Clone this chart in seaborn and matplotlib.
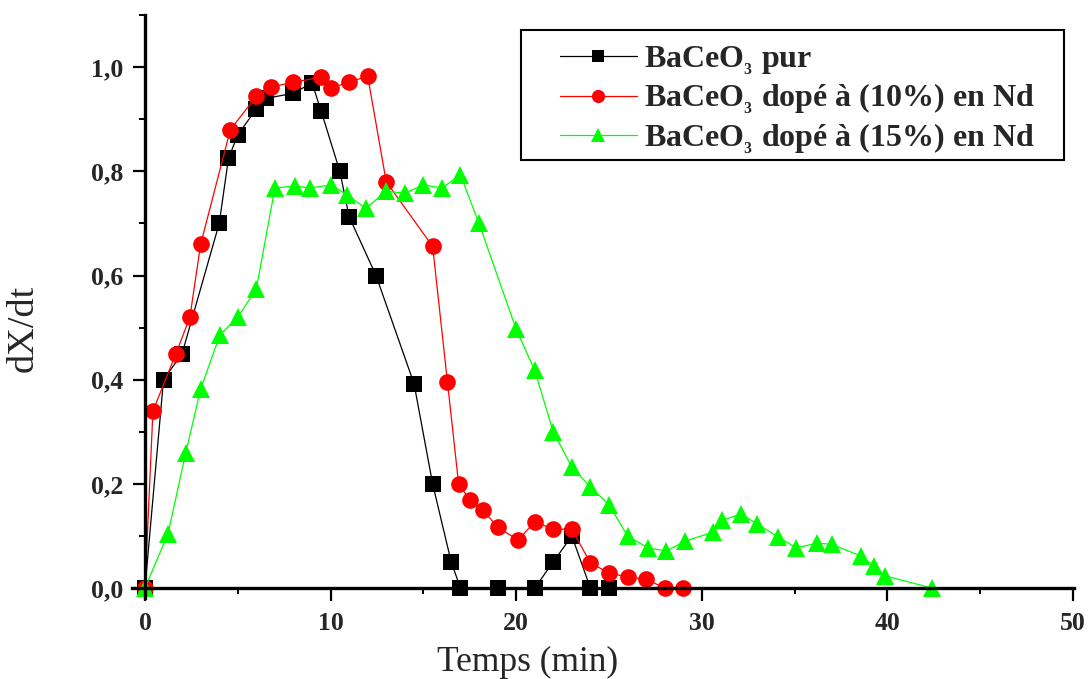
import matplotlib
matplotlib.use("Agg")
import matplotlib.pyplot as plt
import seaborn as sns
import pandas as pd
from matplotlib.ticker import MultipleLocator, FuncFormatter
from matplotlib.patches import Rectangle

# ---- data ----
t_pur = [0, 1, 2, 4, 4.5, 5, 6, 6.5, 8, 9, 9.5, 10.5, 11, 12.45, 14.5, 15.5, 16.5, 17, 19, 21, 22, 23, 24, 25]
y_pur = [0, 0.40, 0.45, 0.70, 0.825, 0.87, 0.92, 0.94, 0.95, 0.97, 0.915, 0.80, 0.713, 0.60, 0.392, 0.20, 0.05, 0, 0, 0, 0.05, 0.10, 0, 0]

t_10 = [0, 0.43, 1.67, 2.42, 3.0, 4.6, 6.0, 6.8, 8.0, 9.5, 10.0, 11.0, 12.0, 13.0, 15.5, 16.3, 16.9, 17.5, 18.2, 19.0, 20.1, 21.0, 22.0, 23.0, 24.0, 25.0, 26.0, 27.0, 28.0, 29.0]
y_10 = [0, 0.34, 0.45, 0.52, 0.66, 0.88, 0.944, 0.962, 0.971, 0.981, 0.96, 0.971, 0.983, 0.78, 0.656, 0.395, 0.20, 0.169, 0.15, 0.117, 0.092, 0.127, 0.113, 0.113, 0.048, 0.029, 0.021, 0.017, 0, 0]

t_15 = [0, 1.24, 2.2, 3.0, 4.04, 5.0, 6.0, 7.0, 8.1, 8.9, 10.0, 10.9, 11.9, 13.0, 14.0, 15.0, 16.0, 17.0, 18.0, 20.0, 21.0, 22.0, 23.0, 24.0, 25.0, 26.0, 27.1, 28.1, 29.1, 30.6, 31.1, 32.1, 33.0, 34.1, 35.1, 36.2, 37.0, 38.6, 39.3, 39.9, 42.4]
y_15 = [0, 0.104, 0.26, 0.382, 0.486, 0.52, 0.574, 0.768, 0.772, 0.768, 0.774, 0.755, 0.729, 0.762, 0.758, 0.774, 0.768, 0.793, 0.70, 0.497, 0.418, 0.30, 0.232, 0.194, 0.16, 0.10, 0.077, 0.071, 0.09, 0.107, 0.13, 0.142, 0.123, 0.098, 0.077, 0.086, 0.084, 0.061, 0.042, 0.023, 0.0]

labels = [r"BaCeO$_{_\mathbf{3}}$ pur",
          r"BaCeO$_{_\mathbf{3}}$ dopé à (10%) en Nd",
          r"BaCeO$_{_\mathbf{3}}$ dopé à (15%) en Nd"]
xlabel = "Temps (min)"
ylabel = "dX/dt"

# ---- style ----
sns.set_style("ticks")
plt.rcParams['font.family'] = ['Liberation Serif', 'DejaVu Serif']
plt.rcParams['mathtext.fontset'] = 'custom'
plt.rcParams['mathtext.rm'] = 'Liberation Serif:bold'
plt.rcParams['mathtext.bf'] = 'Liberation Serif:bold'
plt.rcParams['mathtext.it'] = 'Liberation Serif:bold'

fig = plt.figure(figsize=(10.88, 6.79), dpi=100)
ax = fig.add_axes([0.1213, 0.1187, 0.8657, 0.859])

series = [
    (t_pur, y_pur, labels[0], "black", "s", 11.5, 8),
    (t_10, y_10, labels[1], "#ff0000", "o", 12, 9.5),
    (t_15, y_15, labels[2], "#00ff00", "^", 13, 10.5),
]
for t, y, lab, col, mk, ms, lms in series:
    df = pd.DataFrame({"t": t, "y": y})
    sns.lineplot(data=df, x="t", y="y", ax=ax, color=col, marker=mk, markersize=ms,
                 markeredgewidth=0, linewidth=0.9, estimator=None, sort=False,
                 label=lab, clip_on=False)

ax.set_xlim(-0.7, 50.05)
ax.set_ylim(-0.02, 1.1)
ax.spines['left'].set_position(('data', 0))
ax.spines['bottom'].set_position(('data', 0))
ax.spines['top'].set_visible(False)
ax.spines['right'].set_visible(False)
for s in ('left', 'bottom'):
    ax.spines[s].set_linewidth(2.4)
    ax.spines[s].set_color('black')

ax.xaxis.set_major_locator(MultipleLocator(10))
ax.xaxis.set_minor_locator(MultipleLocator(5))
ax.yaxis.set_major_locator(MultipleLocator(0.2))
ax.yaxis.set_minor_locator(MultipleLocator(0.1))
ax.yaxis.set_major_formatter(FuncFormatter(lambda v, p: f"{v:.1f}".replace('.', ',')))
ax.tick_params(which='major', direction='out', length=9, width=1.6, labelsize=18.5, color='black')
ax.tick_params(which='minor', direction='out', length=4.5, width=1.4, color='black')
ax.tick_params(axis='y', which='major', pad=6.5)
ax.tick_params(axis='x', which='major', pad=8)
for lbl in ax.get_xticklabels() + ax.get_yticklabels():
    lbl.set_fontweight('bold')

ax.set_xlabel(xlabel, fontsize=25.5)
ax.set_ylabel(ylabel, fontsize=27.5)
ax.xaxis.set_label_coords(0.485, 0.049, transform=fig.transFigure)
ax.yaxis.set_label_coords(0.037, 0.517, transform=fig.transFigure)

# legend (frame drawn separately so its padding matches the original)
leg = ax.legend(loc='upper left', bbox_to_anchor=(560 / 1088, 1 - 44 / 679), bbox_transform=fig.transFigure,
                borderaxespad=0, borderpad=0, frameon=False,
                prop={'family': 'Liberation Serif', 'weight': 'bold', 'size': 23},
                handlelength=2.4, handletextpad=0.22, labelspacing=0.16,
                numpoints=1)
for h, s in zip(leg.legend_handles, series):
    h.set_markersize(s[6])
fig.patches.append(Rectangle((521 / 1088, 1 - 160 / 679), 543 / 1088, 130 / 679,
                             transform=fig.transFigure, fill=False, edgecolor='black',
                             linewidth=1.5, zorder=5))

fig.savefig("out.png", dpi=100)
